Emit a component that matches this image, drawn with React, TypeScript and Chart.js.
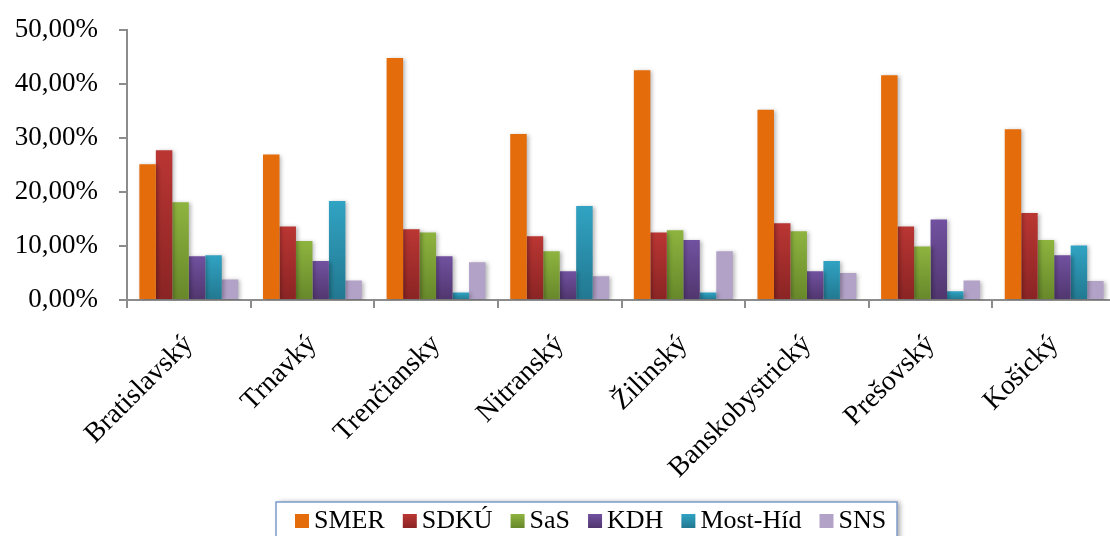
import React, { useEffect, useRef } from "react";
import { Chart, registerables } from "chart.js";

Chart.register(...registerables);

const categories = [
  "Bratislavský",
  "Trnavký",
  "Trenčiansky",
  "Nitranský",
  "Žilinský",
  "Banskobystrický",
  "Prešovský",
  "Košický",
];
const seriesNames = ["SMER", "SDKÚ", "SaS", "KDH", "Most-Híd", "SNS"];
const smer = [25.1, 26.9, 44.8, 30.7, 42.5, 35.2, 41.6, 31.6];
const sdku = [27.7, 13.6, 13.1, 11.8, 12.5, 14.2, 13.6, 16.1];
const sas = [18.1, 10.9, 12.5, 9.0, 12.9, 12.7, 9.9, 11.1];
const kdh = [8.1, 7.2, 8.1, 5.3, 11.1, 5.3, 14.9, 8.3];
const mostHid = [8.3, 18.3, 1.4, 17.4, 1.4, 7.2, 1.6, 10.1];
const sns = [3.8, 3.6, 7.0, 4.4, 9.0, 5.0, 3.6, 3.5];
const yTicks = [0, 10, 20, 30, 40, 50];

const seriesValues = [smer, sdku, sas, kdh, mostHid, sns];
const colorTop = ["#E46C0A", "#BA3633", "#8EB43F", "#7151A0", "#31A3C3", "#B3A2C8"];
const colorBottom = ["#E46C0A", "#8A2424", "#67872A", "#50366E", "#227890", "#B3A2C8"];

const FONT = "'Liberation Serif', 'Times New Roman', serif";

function gradientFill(top: string, bottom: string) {
  return (ctx: any) => {
    const chart = ctx.chart;
    if (!chart.chartArea || ctx.type !== "data") return top;
    const v = ctx.parsed ? ctx.parsed.y : ctx.raw;
    const ys = chart.scales.y;
    const y0 = ys.getPixelForValue(0);
    const y1 = ys.getPixelForValue(v);
    if (!isFinite(y0) || !isFinite(y1) || y0 === y1) return top;
    const g = chart.ctx.createLinearGradient(0, y1, 0, y0);
    g.addColorStop(0, top);
    g.addColorStop(1, bottom);
    return g;
  };
}

const shadowPlugin = {
  id: "barShadow",
  beforeDatasetsDraw(chart: any) {
    const c = chart.ctx;
    c.save();
    c.shadowColor = "rgba(0,0,0,0.28)";
    c.shadowBlur = 4;
    c.shadowOffsetX = 2;
    c.shadowOffsetY = 1;
  },
  afterDatasetsDraw(chart: any) {
    chart.ctx.restore();
  },
};

const legendPlugin = {
  id: "boxLegend",
  afterDraw(chart: any) {
    const c = chart.ctx;
    const boxLeft = 276;
    const boxTop = 502;
    const boxRight = 897;
    const boxBottom = 570;
    c.save();
    c.shadowColor = "rgba(0,0,0,0.35)";
    c.shadowBlur = 5;
    c.shadowOffsetX = 3;
    c.shadowOffsetY = 0;
    c.fillStyle = "#ffffff";
    c.fillRect(boxLeft, boxTop, boxRight - boxLeft, boxBottom - boxTop);
    c.restore();
    c.save();
    c.strokeStyle = "#7B9CCB";
    c.lineWidth = 1.5;
    c.strokeRect(boxLeft, boxTop, boxRight - boxLeft, boxBottom - boxTop);
    c.font = "26px " + FONT;
    c.textBaseline = "alphabetic";
    c.textAlign = "left";
    let x = 295;
    const sq = 14;
    const sqTop = 514;
    chart.data.datasets.forEach((ds: any, i: number) => {
      const g = c.createLinearGradient(0, sqTop, 0, sqTop + sq);
      g.addColorStop(0, colorTop[i]);
      g.addColorStop(1, colorBottom[i]);
      c.fillStyle = g;
      c.fillRect(x, sqTop, sq, sq);
      x += sq + 5;
      c.fillStyle = "#000000";
      c.fillText(ds.label, x, 528);
      x += c.measureText(ds.label).width + 18;
    });
    c.restore();
  },
};

export default function App() {
  const ref = useRef<HTMLCanvasElement | null>(null);
  useEffect(() => {
    if (!ref.current) return;
    const chart = new Chart(ref.current, {
      type: "bar",
      data: {
        labels: categories,
        datasets: seriesValues.map((vals, i) => ({
          label: seriesNames[i],
          data: vals,
          backgroundColor: gradientFill(colorTop[i], colorBottom[i]),
          borderWidth: 0,
          categoryPercentage: 0.8,
          barPercentage: 1,
        })),
      },
      options: {
        responsive: false,
        animation: false,
        devicePixelRatio: 1,
        layout: { padding: { top: 0, left: 0, right: 0, bottom: 0 } },
        plugins: {
          legend: { display: false },
          tooltip: { enabled: false },
        },
        scales: {
          x: {
            grid: {
              display: true,
              drawOnChartArea: false,
              drawTicks: true,
              tickLength: 8,
              color: "#8C8C8C",
              lineWidth: 2,
              offset: true,
            },
            border: { display: true, color: "#8C8C8C", width: 2 },
            ticks: {
              minRotation: 45,
              maxRotation: 45,
              autoSkip: false,
              padding: 20,
              color: "#000000",
              font: { family: FONT, size: 28 },
            },
            afterFit(scale: any) {
              scale.height = 246;
            },
          },
          y: {
            min: 0,
            max: 50,
            grid: {
              display: true,
              drawOnChartArea: false,
              drawTicks: true,
              tickLength: 8,
              color: "#8C8C8C",
              lineWidth: 2,
            },
            border: { display: true, color: "#8C8C8C", width: 2 },
            afterBuildTicks(scale: any) {
              scale.ticks = yTicks.map((v) => ({ value: v }));
            },
            ticks: {
              padding: 21,
              color: "#000000",
              font: { family: FONT, size: 27, lineHeight: 0.65 },
              callback: (v: any) => Number(v).toFixed(2).replace(".", ",") + "%",
            },
            afterFit(scale: any) {
              scale.width = 127;
            },
          },
        },
      },
      plugins: [shadowPlugin, legendPlugin],
    });
    return () => chart.destroy();
  }, []);
  return (
    <div style={{ position: "fixed", left: 0, top: 0, width: 1116, height: 546, background: "#ffffff" }}>
      <canvas ref={ref} width={1116} height={546} style={{ width: 1116, height: 546, display: "block" }} />
    </div>
  );
}
